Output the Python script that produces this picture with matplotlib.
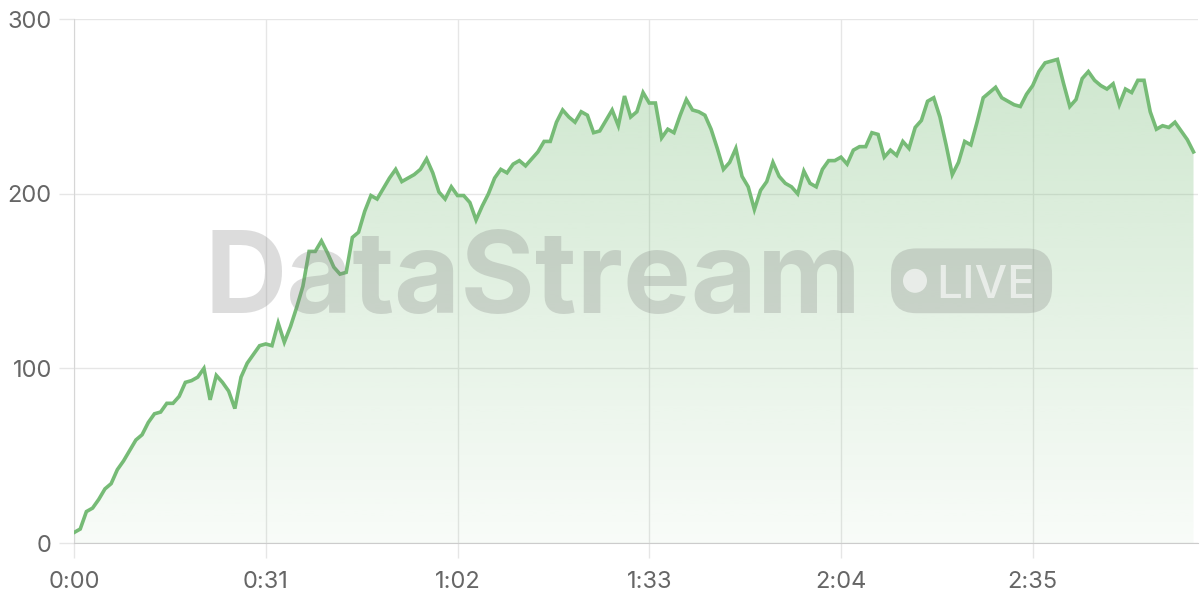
import numpy as np
import matplotlib
matplotlib.use("Agg")
import matplotlib.pyplot as plt
from matplotlib.patches import FancyBboxPatch, Ellipse
from matplotlib.ticker import FixedLocator

# seconds since start, one reading per second
values = [6, 8, 18, 20, 25, 31, 34, 42, 47, 53, 59, 62, 69, 74, 75, 80, 80, 84, 92, 93,
          95, 100, 82, 96, 92, 87, 77, 95, 103, 108, 113, 114, 113, 126, 115, 124, 135, 147, 167, 167,
          173, 166, 158, 154, 155, 175, 178, 190, 199, 197, 203, 209, 214, 207, 209, 211, 214, 220, 212, 201,
          197, 204, 199, 199, 195, 185, 193, 200, 209, 214, 212, 217, 219, 216, 220, 224, 230, 230, 241, 248,
          244, 241, 247, 245, 235, 236, 242, 248, 239, 256, 244, 247, 258, 252, 252, 232, 237, 235, 245, 254,
          248, 247, 245, 237, 226, 214, 218, 226, 210, 204, 191, 202, 207, 218, 210, 206, 204, 200, 213, 206,
          204, 214, 219, 219, 221, 217, 225, 227, 227, 235, 234, 221, 225, 222, 230, 226, 238, 242, 253, 255,
          244, 228, 211, 218, 230, 228, 241, 255, 258, 261, 255, 253, 251, 250, 257, 262, 270, 275, 276, 277,
          263, 250, 254, 266, 270, 265, 262, 260, 263, 251, 260, 258, 265, 265, 247, 237, 239, 238, 241, 236,
          231, 224]
seconds = list(range(len(values)))
tick_seconds = [0, 31, 62, 93, 124, 155]
tick_labels = ["0:00", "0:31", "1:02", "1:33", "2:04", "2:35"]
y_ticks = [0, 100, 200, 300]

LINE = "#76bb76"
GRID = "#e6e6e6"
TEXT = "#666666"


def draw_area(ax, x, y):
    x = np.asarray(x, dtype=float)
    y = np.asarray(y, dtype=float)
    poly = ax.fill_between(x, y, 0, color="none", lw=0)
    # vertical gradient, stronger at the top
    grad = np.linspace(0.05, 0.36, 256).reshape(-1, 1)
    rgba = np.zeros((256, 1, 4))
    rgba[..., 0] = 0x78 / 255
    rgba[..., 1] = 0xbc / 255
    rgba[..., 2] = 0x78 / 255
    rgba[..., 3] = grad
    img = ax.imshow(rgba, extent=[x.min(), x.max(), 0, y.max()], origin="lower",
                    aspect="auto", zorder=1, interpolation="bilinear")
    img.set_clip_path(poly.get_paths()[0], transform=ax.transData)
    ax.plot(x, y, color=LINE, lw=2.6, zorder=3, solid_joinstyle="miter")


def draw_watermark(fig):
    wm = "#7a7a7a"
    fig.text(0.444, 0.478, "DataStream", fontsize=82, fontweight="bold", family=["Inter", "DejaVu Sans"],
             color=wm, alpha=0.26, ha="center", va="baseline", zorder=10)
    badge = FancyBboxPatch((0.7425, 0.478), 0.1342, 0.108, boxstyle="round,pad=0,rounding_size=0.021",
                           transform=fig.transFigure, facecolor=wm, edgecolor="none", alpha=0.26,
                           zorder=10, mutation_aspect=2)
    fig.add_artist(badge)
    fig.add_artist(Ellipse((0.7625, 0.532), 0.02, 0.04, transform=fig.transFigure,
                           facecolor="white", edgecolor="none", alpha=0.6, zorder=11))
    fig.text(0.821, 0.5033, "LIVE", fontsize=33, fontweight="medium", family=["Inter", "DejaVu Sans"],
             color="white", alpha=0.6, ha="center", va="baseline", zorder=11)


def main():
    fig = plt.figure(figsize=(12, 6), dpi=100)
    ax = fig.add_axes([0.0617, 0.095, 0.9365, 0.873])

    draw_area(ax, seconds, values)

    ax.set_xlim(0, 181.7)
    ax.set_ylim(0, 300)
    ax.xaxis.set_major_locator(FixedLocator(tick_seconds))
    ax.set_xticklabels(tick_labels)
    ax.set_yticks(y_ticks)
    for lab in ax.get_xticklabels() + ax.get_yticklabels():
        lab.set_family(["Inter", "DejaVu Sans"])

    ax.grid(True, color=GRID, lw=1, zorder=0)
    ax.set_axisbelow(True)
    for side in ["top", "right"]:
        ax.spines[side].set_visible(False)
    ax.spines["left"].set_color("#d6d6d6")
    ax.spines["bottom"].set_color("#cccccc")
    ax.tick_params(axis="both", colors=GRID, labelcolor=TEXT, labelsize=17, length=11, width=1)
    ax.tick_params(axis="y", pad=5)
    ax.tick_params(axis="x", pad=9)

    draw_watermark(fig)
    fig.savefig("out.png", dpi=100)


if __name__ == "__main__":
    main()
